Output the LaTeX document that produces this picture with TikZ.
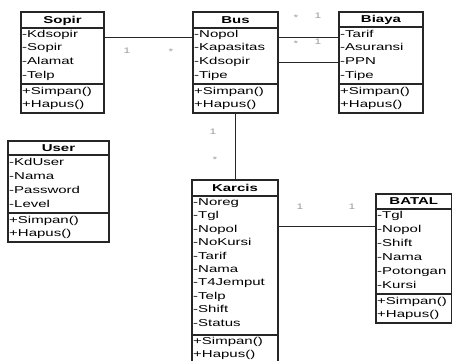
\documentclass[tikz,border=0pt]{standalone}
\usepackage{fontspec}
\newfontfamily\umlfont[FakeStretch=1.5]{Liberation Sans}
\tikzset{
  classbox/.style={draw=black!85, line width=1.1pt, inner sep=0pt, outer sep=0pt},
  sepline/.style={draw=black!85, line width=1.1pt},
  ttl/.style={font=\umlfont\bfseries\fontsize{10}{10}\selectfont, inner sep=0pt, text height=7pt, text depth=1pt},
  attr/.style={font=\umlfont\fontsize{10}{10}\selectfont, inner sep=0pt, anchor=west, text height=7pt, text depth=2pt},
  mult/.style={font=\umlfont\fontsize{8}{8}\selectfont, text=black!40, inner sep=0pt},
  conn/.style={draw=black!85, line width=0.9pt}
}
% #1 name, #2 left, #3 top, #4 right, #5 title line, #6 separator, #7 bottom, #8 title
\newcommand{\umlbox}[8]{%
  \node[classbox, minimum width={(#4-#2)*1pt}, minimum height={(#7-#3)*1pt}] (#1) at ({(#2+#4)/2},{(#3+#7)/2}) {};
  \node[ttl] (#1-title) at ({(#2+#4)/2},{(#3+#5)/2}) {#8};
  \draw[sepline] (#2,#5) -- (#4,#5);
  \draw[sepline] (#2,#6) -- (#4,#6);
}
% #1 prefix, #2 x, #3 first y, #4 step, #5 list
\newcommand{\umlattrs}[5]{%
  \foreach \t [count=\i] in {#5} {\node[attr] (#1\i) at (#2, {#3+(\i-1)*#4}) {\t};}
}
\begin{document}
\begin{tikzpicture}[x=1pt,y=-1pt]
\useasboundingbox[fill=white] (0,0) rectangle (452,360);

% Sopir
\umlbox{sopir}{21}{12}{104}{28}{84}{113}{Sopir}
\umlattrs{sopir-a}{22}{34.5}{13.7}{-Kdsopir,-Sopir,-Alamat,-Telp}
\umlattrs{sopir-m}{22}{92}{13}{+Simpan(),+Hapus()}

% Bus
\umlbox{bus}{193}{12}{278}{28}{84}{113}{Bus}
\umlattrs{bus-a}{194}{34.5}{13.7}{-Nopol,-Kapasitas,-Kdsopir,-Tipe}
\umlattrs{bus-m}{194}{92}{13}{+Simpan(),+Hapus()}

% Biaya
\umlbox{biaya}{339}{12}{423}{27}{84}{113}{Biaya}
\umlattrs{biaya-a}{340}{34.5}{13.7}{-Tarif,-Asuransi,-PPN,-Tipe}
\umlattrs{biaya-m}{340}{92}{13}{+Simpan(),+Hapus()}

% User
\umlbox{user}{8}{141}{109}{155}{213}{242}{User}
\umlattrs{user-a}{9}{162.5}{14}{-KdUser,-Nama,-Password,-Level}
\umlattrs{user-m}{9}{221}{13}{+Simpan(),+Hapus()}

% Karcis
\umlbox{karcis}{192}{180}{278}{196}{335}{364}{Karcis}
\umlattrs{karcis-a}{193}{203}{13.4}{-Noreg,-Tgl,-Nopol,-NoKursi,-Tarif,-Nama,-T4Jemput,-Telp,-Shift,-Status}
\umlattrs{karcis-m}{193}{342}{13}{+Simpan(),+Hapus()}

% BATAL
\umlbox{batal}{376}{194}{451.5}{209}{294}{323}{BATAL}
\umlattrs{batal-a}{377}{215.5}{14}{-Tgl,-Nopol,-Shift,-Nama,-Potongan,-Kursi}
\umlattrs{batal-m}{377}{302}{13}{+Simpan(),+Hapus()}

% connectors
\draw[conn] (sopir.east |- 0,37) -- (bus.west |- 0,37);
\draw[conn] (bus.east |- 0,37) -- (biaya.west |- 0,37);
\draw[conn] (bus.east |- 0,62) -- (biaya.west |- 0,62);
\draw[conn] (bus.south) -- (bus.south |- karcis.north);
\draw[conn] (karcis.east |- 0,226) -- (batal.west |- 0,226);

% multiplicities
\node[mult] (m1) at (127,51) {1};
\node[mult] (m2) at (171,52) {*};
\node[mult] (m3) at (296,18) {*};
\node[mult] (m4) at (318,16) {1};
\node[mult] (m5) at (296,44) {*};
\node[mult] (m6) at (318,42) {1};
\node[mult] (m7) at (213,132) {1};
\node[mult] (m8) at (215,160) {*};
\node[mult] (m9) at (300,207) {1};
\node[mult] (m10) at (352,207) {1};
\end{tikzpicture}
\end{document}
